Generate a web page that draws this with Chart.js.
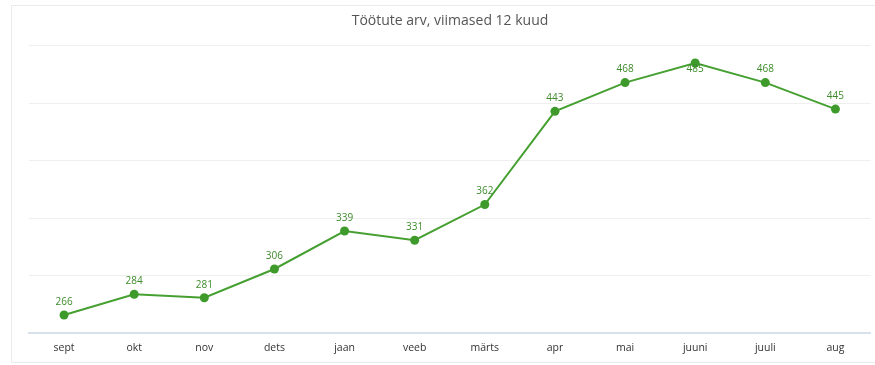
<!DOCTYPE html>
<html><head><meta charset="utf-8">
<script src="https://cdn.jsdelivr.net/npm/chart.js@4"></script>
<style>
html,body{margin:0;padding:0;background:#fff;}
#wrap{position:relative;width:875px;height:365px;}
#box{position:absolute;left:11px;top:5px;width:870px;height:356px;border:1px solid #ebebeb;}
canvas{position:absolute;left:0;top:0;}
</style></head>
<body>
<div id="wrap"><div id="box"></div><canvas id="c" width="875" height="365"></canvas></div>
<script>
const months = ["sept","okt","nov","dets","jaan","veeb","märts","apr","mai","juuni","juuli","aug"];
const unemployed = [266,284,281,306,339,331,362,443,468,485,468,445];
const yTicks = [250,300,350,400,450,500];

const labelPlugin = {
  id:'labels',
  afterDatasetsDraw(chart){
    const ctx = chart.ctx, meta = chart.getDatasetMeta(0), area = chart.chartArea;
    ctx.save();
    ctx.font = '10px "Open Sans", sans-serif';
    ctx.fillStyle = '#3d8b2a';
    ctx.textAlign = 'center';
    ctx.textBaseline = 'middle';
    meta.data.forEach((p,i)=>{
      const y = Math.max(p.y - 13, area.top + 23);
      ctx.fillText(String(chart.data.datasets[0].data[i]), p.x, y);
    });
    ctx.restore();
  }
};

new Chart(document.getElementById('c'), {
  type:'line',
  data:{labels:months, datasets:[{data:unemployed, borderColor:'#46a031', backgroundColor:'#3f9a2c', borderWidth:2, pointRadius:4.5, pointHoverRadius:4.5, pointBorderWidth:0, tension:0}]},
  options:{
    responsive:false, animation:false,
    layout:{padding:{left:29,right:4,top:0,bottom:3}},
    plugins:{
      legend:{display:false}, tooltip:{enabled:false},
      title:{display:true, text:'Töötute arv, viimased 12 kuud', color:'#555', font:{family:'"Open Sans", sans-serif', size:14, weight:'normal'}, padding:{top:13,bottom:16}}
    },
    scales:{
      x:{offset:true, grid:{display:false, drawTicks:false}, border:{display:true,color:'#d8e0ea',width:2},
         ticks:{color:'#333', font:{family:'"Open Sans", sans-serif', size:10.5}, padding:8}},
      y:{min:250, max:500, afterBuildTicks(s){s.ticks = yTicks.map(v=>({value:v}));},
         grid:{color:'#efefef', drawTicks:false}, border:{display:false}, ticks:{display:false}}
    }
  },
  plugins:[labelPlugin]
});
</script>
</body></html>
